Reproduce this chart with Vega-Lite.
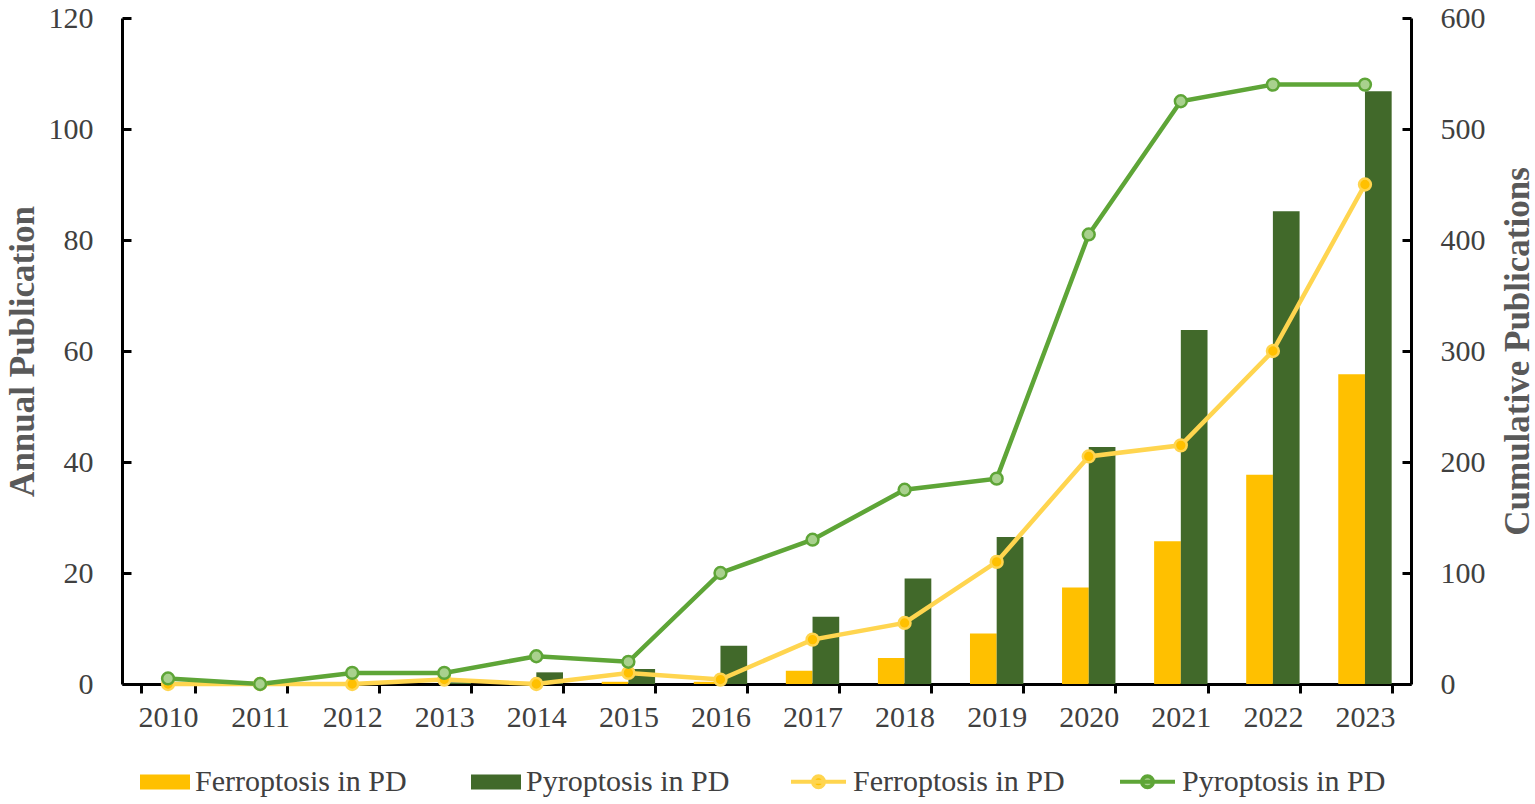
{
  "$schema": "https://vega.github.io/schema/vega-lite/v6.json",
  "description": "Annual and cumulative publications on ferroptosis and pyroptosis in PD, 2010-2023.",
  "width": 1289,
  "height": 666,
  "autosize": {"type": "none"},
  "padding": {"left": 122, "top": 18, "right": 124, "bottom": 120},
  "background": "white",
  "data": {
    "values": [
      {"year": "2010", "series": "Ferroptosis in PD", "annual": 0, "cumulative": 0},
      {"year": "2011", "series": "Ferroptosis in PD", "annual": 0, "cumulative": 0},
      {"year": "2012", "series": "Ferroptosis in PD", "annual": 0, "cumulative": 0},
      {"year": "2013", "series": "Ferroptosis in PD", "annual": 0, "cumulative": 4},
      {"year": "2014", "series": "Ferroptosis in PD", "annual": 0, "cumulative": 0},
      {"year": "2015", "series": "Ferroptosis in PD", "annual": 0.4, "cumulative": 10},
      {"year": "2016", "series": "Ferroptosis in PD", "annual": 0.4, "cumulative": 4},
      {"year": "2017", "series": "Ferroptosis in PD", "annual": 2.4, "cumulative": 40},
      {"year": "2018", "series": "Ferroptosis in PD", "annual": 4.7, "cumulative": 55},
      {"year": "2019", "series": "Ferroptosis in PD", "annual": 9.1, "cumulative": 110},
      {"year": "2020", "series": "Ferroptosis in PD", "annual": 17.4, "cumulative": 205},
      {"year": "2021", "series": "Ferroptosis in PD", "annual": 25.7, "cumulative": 215},
      {"year": "2022", "series": "Ferroptosis in PD", "annual": 37.7, "cumulative": 300},
      {"year": "2023", "series": "Ferroptosis in PD", "annual": 55.8, "cumulative": 450},
      {"year": "2010", "series": "Pyroptosis in PD", "annual": 0, "cumulative": 5},
      {"year": "2011", "series": "Pyroptosis in PD", "annual": 0, "cumulative": 0},
      {"year": "2012", "series": "Pyroptosis in PD", "annual": 0, "cumulative": 10},
      {"year": "2013", "series": "Pyroptosis in PD", "annual": 0.3, "cumulative": 10},
      {"year": "2014", "series": "Pyroptosis in PD", "annual": 2.1, "cumulative": 25},
      {"year": "2015", "series": "Pyroptosis in PD", "annual": 2.7, "cumulative": 20},
      {"year": "2016", "series": "Pyroptosis in PD", "annual": 6.9, "cumulative": 100},
      {"year": "2017", "series": "Pyroptosis in PD", "annual": 12.1, "cumulative": 130},
      {"year": "2018", "series": "Pyroptosis in PD", "annual": 19, "cumulative": 175},
      {"year": "2019", "series": "Pyroptosis in PD", "annual": 26.5, "cumulative": 185},
      {"year": "2020", "series": "Pyroptosis in PD", "annual": 42.7, "cumulative": 405},
      {"year": "2021", "series": "Pyroptosis in PD", "annual": 63.8, "cumulative": 525},
      {"year": "2022", "series": "Pyroptosis in PD", "annual": 85.2, "cumulative": 540},
      {"year": "2023", "series": "Pyroptosis in PD", "annual": 106.8, "cumulative": 540}
    ]
  },
  "encoding": {
    "x": {
      "field": "year",
      "type": "ordinal",
      "scale": {"paddingInner": 0.42, "paddingOuter": 0.21},
      "axis": {
        "title": null,
        "labelAngle": 0,
        "labelPadding": 9,
        "tickSize": 9,
        "tickBand": "extent"
      }
    }
  },
  "layer": [
    {
      "mark": {"type": "bar"},
      "encoding": {
        "xOffset": {
          "field": "series",
          "sort": ["Ferroptosis in PD", "Pyroptosis in PD"],
          "scale": {"paddingInner": 0, "paddingOuter": 0}
        },
        "y": {
          "field": "annual",
          "type": "quantitative",
          "scale": {"domain": [0, 120], "nice": false},
          "axis": {
            "title": "Annual Publication",
            "titleX": -100,
            "titleY": 333,
            "values": [0, 20, 40, 60, 80, 100, 120],
            "labelPadding": 38,
            "tickSize": -9
          }
        },
        "color": {
          "field": "series",
          "type": "nominal",
          "scale": {
            "domain": ["Ferroptosis in PD", "Pyroptosis in PD"],
            "range": ["#FFC000", "#41692A"]
          },
          "legend": {
            "legendX": 18,
            "legendY": 739,
            "symbolType": "M-1,-0.3H1V0.3H-1Z",
            "symbolSize": 2500,
            "symbolStrokeWidth": 0,
            "columnPadding": 64
          }
        }
      }
    },
    {
      "encoding": {
        "y": {
          "field": "cumulative",
          "type": "quantitative",
          "scale": {"domain": [0, 600], "nice": false},
          "axis": {
            "orient": "right",
            "title": "Cumulative Publications",
            "titleX": 106,
            "titleY": 333,
            "values": [0, 100, 200, 300, 400, 500, 600],
            "labelPadding": 38,
            "tickSize": -9
          }
        },
        "color": {
          "field": "series",
          "type": "nominal",
          "scale": {
            "domain": ["Ferroptosis in PD", "Pyroptosis in PD"],
            "range": ["#FFD54F", "#5EA537"]
          },
          "legend": {
            "legendX": 667,
            "legendY": 734,
            "symbolType": "M-1,0H1M0.2,0A0.2,0.2 0 1,1 -0.2,0A0.2,0.2 0 1,1 0.2,0",
            "symbolSize": 3025,
            "symbolStrokeWidth": 4,
            "columnPadding": 47,
            "encode": {
              "symbols": {
                "update": {
                  "fill": {"signal": "datum.value === 'Ferroptosis in PD' ? '#FFC000' : '#A9D18E'"}
                }
              }
            }
          }
        }
      },
      "layer": [
        {"mark": {"type": "line", "strokeWidth": 4.5}},
        {
          "mark": {"type": "point", "shape": "circle", "filled": false, "size": 140, "strokeWidth": 2.5, "opacity": 1},
          "encoding": {
            "fill": {
              "field": "series",
              "type": "nominal",
              "scale": {
                "domain": ["Ferroptosis in PD", "Pyroptosis in PD"],
                "range": ["#FFC000", "#A9D18E"]
              },
              "legend": null
            }
          }
        }
      ]
    }
  ],
  "resolve": {"scale": {"y": "independent", "color": "independent"}},
  "config": {
    "font": "Liberation Serif",
    "view": {"stroke": null},
    "axis": {
      "grid": false,
      "labelFont": "Liberation Serif",
      "labelFontSize": 30,
      "labelColor": "#404040",
      "titleFont": "Liberation Serif",
      "titleFontSize": 35,
      "titleFontWeight": "bold",
      "titleColor": "#595959",
      "titleAngle": 270,
      "titleAlign": "center",
      "titleBaseline": "middle",
      "domainColor": "black",
      "domainWidth": 3,
      "tickColor": "black",
      "tickWidth": 3
    },
    "legend": {
      "title": null,
      "orient": "none",
      "direction": "horizontal",
      "labelFont": "Liberation Serif",
      "labelFontSize": 30,
      "labelColor": "#404040",
      "labelLimit": 400,
      "labelOffset": 5,
      "symbolOpacity": 1,
      "padding": 0
    }
  }
}
